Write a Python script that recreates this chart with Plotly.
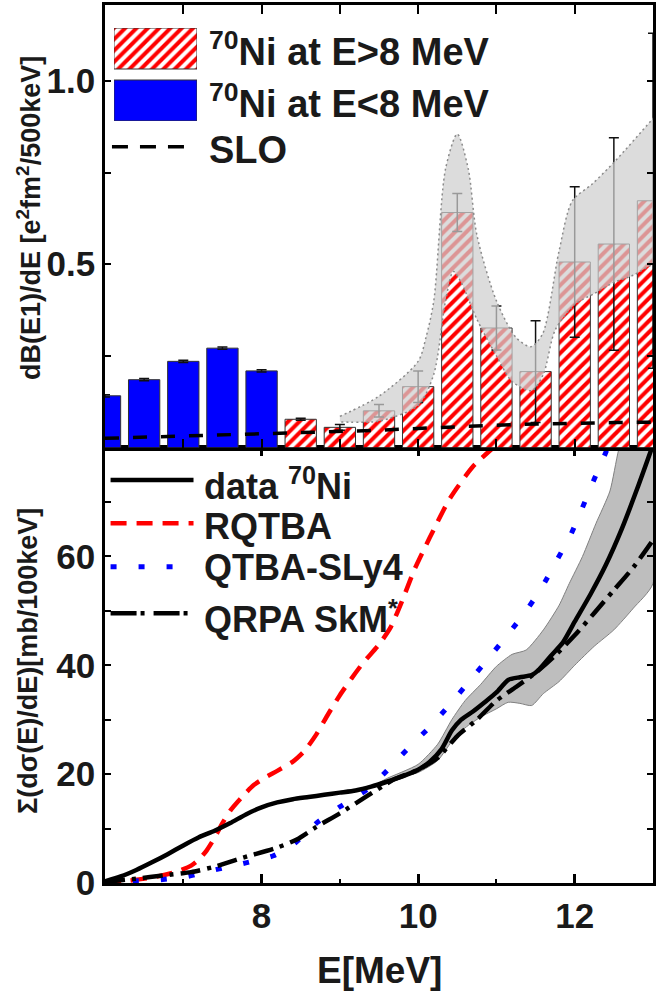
import plotly.graph_objects as go

# ---------------- upper panel: dB(E1)/dE per 500 keV bin ----------------
E_LOW = [6.0, 6.5, 7.0, 7.5, 8.0]
B_LOW = [0.141, 0.185, 0.235, 0.271, 0.209]
B_LOW_ERR = [0.003, 0.003, 0.003, 0.003, 0.003]

E_HIGH = [8.5, 9.0, 9.5, 10.0, 10.5, 11.0, 11.5, 12.0, 12.5, 13.0]
B_HIGH = [0.077, 0.055, 0.100, 0.166, 0.641, 0.326, 0.207, 0.506, 0.555, 0.673]
B_HIGH_ERR = [0.003, 0.008, 0.017, 0.043, 0.052, 0.060, 0.139, 0.205, 0.290, 0.457]

SLO_E = [6.0, 6.5, 7.0, 7.5, 8.0, 8.5, 9.0, 9.5, 10.0, 10.5, 11.0, 11.5, 12.0, 12.5, 13.0]
SLO_B = [0.025, 0.028, 0.030, 0.033, 0.036, 0.039, 0.043, 0.047, 0.052, 0.057,
         0.061, 0.064, 0.067, 0.068, 0.069]

# uncertainty band of the strength (upper / lower edge)
BAND_E_UP = [9.0, 9.5, 10.0, 10.1, 10.2, 10.35, 10.5, 10.64, 10.75, 11.0, 11.25,
             11.44, 11.59, 11.8, 11.97, 12.22, 12.52, 12.97, 13.4]
BAND_B_UP = [0.085, 0.14, 0.235, 0.30, 0.40, 0.76, 0.855, 0.76, 0.58, 0.40, 0.30,
             0.275, 0.31, 0.536, 0.673, 0.718, 0.782, 0.89, 0.99]
BAND_E_LO = [9.0, 9.5, 10.0, 10.2, 10.35, 10.45, 10.55, 10.75, 11.0, 11.2, 11.45,
             11.6, 11.75, 12.0, 12.25, 12.5, 12.75, 13.0, 13.4]
BAND_B_LO = [0.07, 0.072, 0.115, 0.20, 0.40, 0.48, 0.45, 0.35, 0.25, 0.18, 0.155,
             0.20, 0.32, 0.39, 0.42, 0.45, 0.47, 0.50, 0.53]

# ---------------- lower panel: running sum of dsigma/dE ----------------
DATA_E = [6.0, 6.2, 6.4, 6.6, 6.8, 7.0, 7.2, 7.4, 7.6, 7.8, 8.0, 8.2, 8.4, 8.6, 8.8,
          9.0, 9.2, 9.4, 9.6, 9.8, 10.0, 10.15, 10.3, 10.43, 10.55, 10.7, 10.85,
          11.0, 11.15, 11.3, 11.45, 11.55, 11.7, 11.85, 12.0, 12.2, 12.4, 12.6,
          12.8, 13.0]
DATA_S = [0.3, 1.2, 2.4, 3.8, 5.3, 6.9, 8.4, 9.6, 11.0, 12.6, 13.9, 14.8, 15.4,
          15.8, 16.2, 16.6, 17.0, 17.7, 18.6, 19.6, 20.8, 22.3, 24.6, 28.0, 30.0,
          31.5, 33.2, 35.0, 37.3, 37.8, 38.2, 39.3, 41.8, 44.2, 48.0, 53.0, 58.5,
          65.0, 72.5, 80.5]

BAND2_E_UP = [9.5, 9.6, 10.0, 10.25, 10.43, 10.6, 10.8, 11.0, 11.2, 11.38, 11.6,
              11.8, 11.93, 12.1, 12.27, 12.45, 12.56, 12.7, 13.0]
BAND2_S_UP = [18.4, 19.2, 21.8, 25.5, 30.0, 33.5, 36.5, 39.8, 42.0, 42.8, 46.5,
              51.0, 55.0, 60.0, 66.0, 72.0, 79.5, 86.0, 100.0]
BAND2_E_LO = [9.5, 9.6, 10.0, 10.25, 10.43, 10.6, 10.8, 11.0, 11.15, 11.3, 11.45,
              11.6, 11.8, 12.0, 12.25, 12.5, 12.75, 13.0]
BAND2_S_LO = [18.0, 18.8, 20.3, 22.5, 26.0, 28.5, 30.5, 32.0, 33.2, 33.0, 32.6,
              34.8, 37.0, 40.0, 43.5, 46.5, 50.5, 55.0]

RQTBA_E = [6.0, 6.3, 6.6, 6.9, 7.1, 7.2, 7.3, 7.4, 7.5, 7.6, 7.75, 7.9, 8.05, 8.2,
           8.4, 8.55, 8.7, 8.85, 9.0, 9.15, 9.3, 9.5, 9.65, 9.8, 9.95, 10.15,
           10.4, 10.7, 11.0, 11.2]
RQTBA_S = [0.0, 0.4, 1.0, 2.0, 3.2, 4.3, 6.0, 8.3, 11.0, 13.3, 15.8, 18.0, 19.4,
           20.6, 22.3, 24.3, 27.3, 31.0, 34.5, 37.6, 40.5, 43.8, 47.0, 52.0, 57.5,
           63.5, 70.5, 76.5, 80.5, 83.0]

QTBA_E = [6.0, 6.3, 6.7, 7.05, 7.4, 7.8, 8.15, 8.4, 8.7, 9.0, 9.35, 9.6, 9.85,
          10.15, 10.4, 10.65, 10.9, 11.15, 11.4, 11.6, 11.78, 11.95, 12.1, 12.25,
          12.4, 12.5]
QTBA_S = [0.0, 0.3, 0.6, 1.2, 2.4, 3.7, 5.0, 7.0, 11.0, 14.0, 17.2, 20.6, 24.4,
          28.7, 32.7, 37.0, 41.3, 45.7, 50.4, 54.8, 59.5, 64.0, 69.0, 74.2, 79.2,
          83.0]

QRPA_E = [6.0, 6.4, 6.75, 7.1, 7.4, 7.75, 8.2, 8.45, 8.7, 9.0, 9.35, 9.55, 9.7,
          10.0, 10.25, 10.5, 10.75, 11.0, 11.25, 11.5, 11.75, 12.0, 12.25, 12.5,
          12.75, 13.0]
QRPA_S = [0.2, 0.8, 1.4, 2.0, 3.0, 4.6, 6.5, 8.0, 10.3, 12.8, 16.0, 17.8, 19.1,
          20.8, 23.0, 27.0, 30.0, 33.5, 36.0, 38.6, 41.8, 45.5, 49.6, 53.8, 58.0,
          63.0]

Y1_TICKS = [0.25, 0.5, 0.75, 1.0]
Y1_LABELS = ["", "0.5", "", "1.0"]
Y0_TICKS = [0, 10, 20, 30, 40, 50, 60, 70]
Y0_LABELS = ["0", "", "20", "", "40", "", "60", ""]
X_MAJOR = [8, 10, 12]
X_MINOR = [7, 9, 11, 13]

# ---------------- geometry helpers (page pixels -> paper fractions) ----------------
W, H = 656, 993
ML, MR, MT, MB = 105, 0, 5, 110
PW, PH = W - ML - MR, H - MT - MB


def px(x):
    return (x - ML) / PW


def py(y):
    return (H - MB - y) / PH


SPLIT = py(447.5)
FONT = "Liberation Sans, Arial, sans-serif"
HATCH = dict(shape="/", fillmode="replace", bgcolor="white", fgcolor="#ff0000",
             size=8, solidity=0.5)

fig = go.Figure()

# bars of the upper panel
fig.add_trace(go.Bar(
    x=E_LOW, y=B_LOW, width=0.4, xaxis="x2", yaxis="y2",
    marker=dict(color="#0000ff", line=dict(color="#333333", width=1)),
    error_y=dict(type="data", array=B_LOW_ERR, color="#111111", thickness=1.5, width=5),
))
fig.add_trace(go.Bar(
    x=E_HIGH, y=B_HIGH, width=0.4, xaxis="x2", yaxis="y2",
    marker=dict(color="#ff0000", pattern=HATCH, line=dict(color="#333333", width=1)),
    error_y=dict(type="data", array=B_HIGH_ERR, color="#111111", thickness=1.5, width=5),
))
# translucent band over the bars
fig.add_trace(go.Scatter(
    x=BAND_E_UP + BAND_E_LO[::-1], y=BAND_B_UP + BAND_B_LO[::-1],
    xaxis="x2", yaxis="y2", mode="lines", fill="toself",
    fillcolor="rgba(207,207,207,0.72)",
    line=dict(color="#8a8a8a", width=1.5, dash="2px,3px", shape="spline", smoothing=0.8),
))
fig.add_trace(go.Scatter(
    x=SLO_E, y=SLO_B, xaxis="x2", yaxis="y2", mode="lines",
    line=dict(color="black", width=3.5, dash="14px,14px"),
))

# lower panel
fig.add_trace(go.Scatter(
    x=BAND2_E_UP + BAND2_E_LO[::-1], y=BAND2_S_UP + BAND2_S_LO[::-1],
    mode="lines", fill="toself", fillcolor="#bebebe",
    line=dict(color="#808080", width=1, shape="spline", smoothing=0.6),
))
fig.add_trace(go.Scatter(
    x=RQTBA_E, y=RQTBA_S, mode="lines",
    line=dict(color="#ff0000", width=4.5, dash="16px,10px", shape="spline", smoothing=0.6),
))
fig.add_trace(go.Scatter(
    x=QTBA_E, y=QTBA_S, mode="lines",
    line=dict(color="#0000ff", width=5, dash="6px,22px", shape="spline", smoothing=0.6),
))
fig.add_trace(go.Scatter(
    x=DATA_E, y=DATA_S, mode="lines",
    line=dict(color="black", width=4.5, shape="spline", smoothing=0.6),
))
fig.add_trace(go.Scatter(
    x=QRPA_E, y=QRPA_S, mode="lines",
    line=dict(color="black", width=4.5, dash="20px,7px,4px,7px", shape="spline", smoothing=0.6),
))

# legend swatches of the upper panel (drawn as bars on a hidden mini axis)
fig.add_trace(go.Bar(
    x=[0], y=[41], base=[52], width=1, xaxis="x3", yaxis="y3",
    marker=dict(color="#ff0000", pattern=HATCH, line=dict(color="#333333", width=1)),
))
fig.add_trace(go.Bar(
    x=[0], y=[41], base=[0], width=1, xaxis="x3", yaxis="y3",
    marker=dict(color="#0000ff", line=dict(color="#333333", width=1)),
))

tickfont = dict(family=FONT, size=35, color="#1a1a1a", weight="bold")
axis_common = dict(showgrid=False, zeroline=False, showline=True, linecolor="black",
                   linewidth=2.5, mirror="ticks", ticks="inside", tickcolor="black")

fig.update_layout(
    width=W, height=H, margin=dict(l=ML, r=MR, t=MT, b=MB),
    paper_bgcolor="white", plot_bgcolor="white", showlegend=False, barmode="overlay",
    xaxis=dict(**axis_common, domain=[0, 1], range=[6, 13], anchor="y",
               tickmode="array", tickvals=X_MAJOR, ticklen=9, tickwidth=2.5,
               tickfont=tickfont,
               minor=dict(tickmode="array", tickvals=X_MINOR, ticklen=4, tickwidth=2,
                          ticks="inside", tickcolor="black")),
    yaxis=dict(**axis_common, domain=[0, SPLIT], range=[0, 80], anchor="x",
               tickmode="array", tickvals=Y0_TICKS, ticktext=Y0_LABELS,
               ticklen=6, tickwidth=2, tickfont=tickfont),
    xaxis2=dict(**axis_common, domain=[0, 1], range=[6, 13], anchor="y2", matches="x",
                tickmode="array", tickvals=[7, 8, 9, 10, 11, 12], ticklen=9,
                tickwidth=2, showticklabels=False),
    yaxis2=dict(**axis_common, domain=[SPLIT, 1], range=[0, 1.207], anchor="x2",
                tickmode="array", tickvals=Y1_TICKS, ticktext=Y1_LABELS,
                ticklen=6, tickwidth=2, tickfont=tickfont),
    xaxis3=dict(domain=[px(114), px(197.5)], range=[-0.5, 0.5], anchor="y3",
                visible=False, fixedrange=True),
    yaxis3=dict(domain=[py(121), py(28)], range=[0, 93], anchor="x3",
                visible=False, fixedrange=True),
)

top_font = dict(family=FONT, size=38, color="#1a1a1a", weight="bold")
low_font = dict(family=FONT, size=36, color="#1a1a1a", weight="bold")
notes = [
    ("<sup>70</sup>Ni at E&gt;8 MeV", 208, 49, top_font),
    ("<sup>70</sup>Ni at E&lt;8 MeV", 208, 100.5, top_font),
    ("SLO", 208, 150, top_font),
    ("data <sup>70</sup>Ni", 203, 484, low_font),
    ("RQTBA", 203, 526, low_font),
    ("QTBA-SLy4", 203, 567, low_font),
    ("QRPA SkM<sup>*</sup>", 203, 617, low_font),
]
for text, x, y, f in notes:
    fig.add_annotation(text=text, x=px(x), y=py(y), xref="paper", yref="paper",
                       xanchor="left", yanchor="middle", showarrow=False, font=f)

# legend line samples
samples = [
    (112, 189, 146.7, "black", 3.5, "16px,12px"),
    (110.6, 194, 480, "black", 4.5, "solid"),
    (110.6, 194, 523.3, "#ff0000", 4.5, "16px,10px"),
    (110.6, 194, 566.7, "#0000ff", 5, "6px,22px"),
    (110.6, 194, 613.3, "black", 4.5, "26px,4px,4px,9px"),
]
for x0, x1, y, color, width, dash in samples:
    fig.add_shape(type="line", xref="paper", yref="paper", x0=px(x0), x1=px(x1),
                  y0=py(y), y1=py(y), line=dict(color=color, width=width, dash=dash))

title_font = dict(family=FONT, size=27, color="#1a1a1a", weight="bold")
fig.add_annotation(text="dB(E1)/dE [e<sup>2</sup>fm<sup>2</sup>/500keV]", x=px(28.5), y=py(218),
                   xref="paper", yref="paper", textangle=-90, showarrow=False,
                   xanchor="center", yanchor="middle", font=title_font)
fig.add_annotation(text="Σ(dσ(E)/dE)[mb/100keV]", x=px(27.5), y=py(661),
                   xref="paper", yref="paper", textangle=-90, showarrow=False,
                   xanchor="center", yanchor="middle", font=title_font)
fig.add_annotation(text="E[MeV]", x=0.5, y=py(971), xref="paper", yref="paper",
                   showarrow=False, xanchor="center", yanchor="middle",
                   font=dict(family=FONT, size=37, color="#1a1a1a", weight="bold"))

fig.write_html("out.html")
